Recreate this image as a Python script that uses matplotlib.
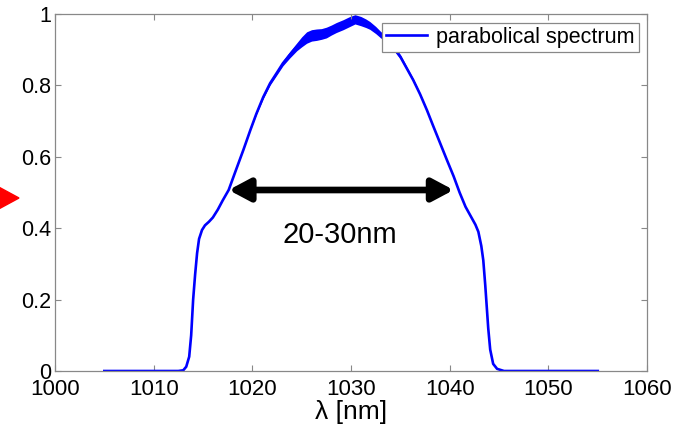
import matplotlib.pyplot as plt
from matplotlib.patches import Polygon

plt.rcParams['font.family'] = ['Liberation Sans', 'DejaVu Sans']

# spectrum (nm, normalised intensity, noise half-width)
wl = [1005.0, 1010.0, 1012.5, 1013.0, 1013.3, 1013.6, 1013.8, 1014.0, 1014.2, 1014.4,
      1014.6, 1014.9, 1015.2, 1015.6, 1016.0, 1016.5, 1017.0, 1017.6, 1018.3, 1019.1,
      1019.8, 1020.4, 1021.1, 1021.8, 1022.5, 1023.1, 1023.8, 1024.5, 1025.0, 1025.5,
      1026.0, 1026.5, 1027.0, 1027.5, 1028.0, 1028.5, 1029.2, 1029.8, 1030.4, 1031.0,
      1031.5, 1031.9, 1032.5, 1033.0, 1033.6, 1034.3, 1035.0, 1035.6, 1036.3, 1037.0,
      1037.7, 1038.3, 1039.0, 1039.7, 1040.4, 1041.0, 1041.6, 1042.1, 1042.6, 1042.9,
      1043.2, 1043.4, 1043.6, 1043.75, 1043.9, 1044.1, 1044.4, 1044.8, 1045.5, 1050.0,
      1055.0]
intensity = [0.0, 0.0, 0.0, 0.002, 0.012, 0.04, 0.1, 0.2, 0.27, 0.33,
             0.37, 0.395, 0.408, 0.418, 0.43, 0.452, 0.478, 0.507, 0.56, 0.62,
             0.675, 0.72, 0.767, 0.806, 0.836, 0.862, 0.886, 0.908, 0.922, 0.934,
             0.94, 0.942, 0.944, 0.948, 0.955, 0.962, 0.970, 0.978, 0.985, 0.98,
             0.974, 0.968, 0.955, 0.942, 0.93, 0.906, 0.88, 0.85, 0.815, 0.775,
             0.73, 0.688, 0.64, 0.592, 0.545, 0.5, 0.46, 0.435, 0.41, 0.39,
             0.35, 0.31, 0.24, 0.18, 0.12, 0.06, 0.02, 0.006, 0.0, 0.0,
             0.0]
spread = [0, 0, 0, 0, 0, 0, 0, 0, 0, 0,
          0, 0, 0, 0, 0, 0, 0, 0, 0, 0,
          0, 0.002, 0.004, 0.005, 0.006, 0.007, 0.009, 0.011, 0.014, 0.016,
          0.016, 0.016, 0.015, 0.015, 0.014, 0.014, 0.014, 0.014, 0.013, 0.013,
          0.012, 0.011, 0.01, 0.009, 0.008, 0.007, 0.006, 0.005, 0.004, 0.003,
          0.002, 0, 0, 0, 0, 0, 0, 0, 0, 0,
          0, 0, 0, 0, 0, 0, 0, 0, 0, 0,
          0]

arrow_left, arrow_right, arrow_y = 1017.6, 1040.4, 0.507
width_label = "20-30nm"

fig = plt.figure(figsize=(6.95, 4.29), dpi=100)
ax = fig.add_axes([0.0791, 0.1352, 0.852, 0.8322])

lower = [i - s for i, s in zip(intensity, spread)]
upper = [i + s for i, s in zip(intensity, spread)]
ax.fill_between(wl, lower, upper, color='#0000ff', lw=0)
ax.plot(wl, intensity, color='#0000ff', lw=1.9, label='parabolical spectrum')

ax.annotate('', xy=(arrow_right, arrow_y), xytext=(arrow_left, arrow_y),
            arrowprops=dict(arrowstyle='<|-|>,head_length=0.45,head_width=0.24',
                            color='black', lw=4.8, mutation_scale=28,
                            shrinkA=0, shrinkB=0))
ax.text(1028.9, 0.381, width_label, fontsize=21, ha='center', va='center')

ax.set_xlim(1000, 1060)
ax.set_ylim(0, 1)
ax.set_xticks([1000, 1010, 1020, 1030, 1040, 1050, 1060])
ax.set_yticks([0, 0.2, 0.4, 0.6, 0.8, 1])
ax.set_yticklabels(['0', '0.2', '0.4', '0.6', '0.8', '1'])
ax.tick_params(direction='in', length=4, color='#888888', labelsize=15.5,
               top=True, right=True, pad=3)
ax.tick_params(axis='x', labelsize=16, pad=6)
for s in ax.spines.values():
    s.set_color('#888888')
    s.set_linewidth(0.9)
ax.set_xlabel('λ [nm]', fontsize=19, labelpad=0)

leg = ax.legend(loc='upper right', fontsize=15.5, fancybox=False, framealpha=1,
                borderaxespad=0.4, handlelength=1.9, borderpad=0.2,
                handletextpad=0.4)
leg.get_frame().set_edgecolor('#888888')
leg.get_frame().set_linewidth(0.9)

# red marker cut by the left edge of the figure
tri = [(-5, 185), (19, 198), (-5, 211)]
fig.add_artist(Polygon([(x / 695, 1 - y / 429) for x, y in tri],
                       closed=True, color='#ff0000', transform=fig.transFigure))

fig.savefig('out.png', dpi=100)
